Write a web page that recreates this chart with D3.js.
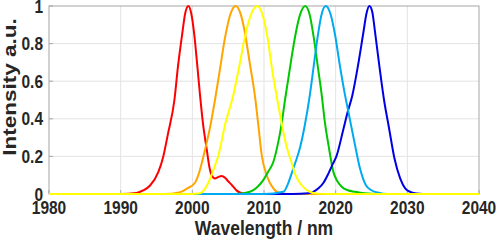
<!DOCTYPE html>
<html>
<head>
<meta charset="utf-8">
<script src="https://cdn.jsdelivr.net/npm/d3@7"></script>
<style>
  body { margin: 0; background: #fff; }
  text { font-family: "Liberation Sans", Arial, sans-serif; font-weight: bold; fill: #262626; }
</style>
</head>
<body>
<svg id="chart" width="498" height="244"></svg>
<script>
// spectra: [wavelength nm, intensity]
const redPts = [[1980,0],[1990,0],[1992.2,0.005],[1993.2,0.02],[1994.1,0.045],[1995.25,0.116],[1995.95,0.2],
  [1996.6,0.32],[1997.5,0.5],[1998.0,0.68],[1998.6,0.855],[1999.0,0.96],[1999.45,1],[1999.85,0.96],[2000.25,0.855],
  [2000.7,0.68],[2001.07,0.527],[2001.5,0.37],[2002.0,0.24],[2002.4,0.14],[2002.7,0.10],[2003.16,0.083],[2003.6,0.09],
  [2004.1,0.096],[2004.6,0.085],[2005.0,0.068],[2005.5,0.048],[2006.2,0.018],[2006.9,0.004],[2008,0],[2040,0]];
const orangePts = [[1980,0],[1996,0],[1998.3,0.01],[1999.3,0.03],[2000.37,0.06],[2001.0,0.12],[2001.77,0.235],
  [2002.5,0.36],[2003.16,0.5],[2003.8,0.65],[2004.6,0.84],[2005.3,0.955],[2006.05,1],[2006.8,0.95],[2007.35,0.855],
  [2008.0,0.7],[2008.74,0.52],[2009.2,0.37],[2009.67,0.21],[2010.37,0.10],[2011.3,0.03],[2012.2,0.005],[2013.5,0],[2040,0]];
const yellowPts = [[1980,0],[2000,0],[2001.07,0.004],[2001.8,0.03],[2002.47,0.08],[2003.0,0.135],[2003.6,0.2],
  [2004.56,0.367],[2005.72,0.527],[2006.5,0.67],[2007.35,0.837],[2008.05,0.94],[2009.07,1],[2009.9,0.94],[2010.5,0.83],
  [2011.1,0.67],[2011.77,0.52],[2012.47,0.376],[2013.1,0.26],[2013.86,0.165],[2014.4,0.1],[2015.0,0.06],[2016.4,0.012],
  [2017.5,0.002],[2019,0],[2040,0]];
const greenPts = [[1980,0],[2006,0],[2008.05,0.012],[2009.0,0.035],[2009.9,0.074],[2010.6,0.12],[2011.3,0.17],
  [2011.9,0.26],[2012.47,0.376],[2012.93,0.5],[2013.7,0.69],[2014.4,0.85],[2015.0,0.95],[2015.75,1],[2016.4,0.95],
  [2016.95,0.83],[2017.5,0.68],[2018.05,0.527],[2018.5,0.38],[2019.0,0.26],[2019.67,0.119],[2020.2,0.07],[2020.84,0.039],
  [2021.7,0.02],[2022.7,0.012],[2024,0.004],[2026,0],[2040,0]];
const cyanPts = [[1980,0],[2010,0],[2012.7,0.012],[2013.3,0.05],[2013.86,0.11],[2014.4,0.17],[2015.0,0.243],
  [2015.7,0.367],[2016.4,0.527],[2016.9,0.67],[2017.5,0.84],[2018.0,0.95],[2018.6,1],[2019.3,0.955],[2019.9,0.85],
  [2020.6,0.68],[2021.3,0.527],[2021.76,0.44],[2022.7,0.26],[2023.4,0.135],[2024.2,0.048],[2025.0,0.02],[2025.7,0.009],
  [2026.6,0.002],[2028,0],[2040,0]];
const bluePts = [[1980,0],[2014,0],[2016.2,0.004],[2017.6,0.03],[2018.3,0.06],[2019.0,0.11],[2019.6,0.16],[2020.1,0.2],
  [2021.05,0.34],[2021.7,0.44],[2022.3,0.52],[2023.1,0.68],[2023.85,0.855],[2024.3,0.96],[2024.7,1],[2025.1,0.97],
  [2025.5,0.86],[2026.1,0.68],[2026.75,0.5],[2027.45,0.35],[2028.2,0.19],[2029.0,0.083],[2029.7,0.03],[2030.5,0.01],
  [2031.3,0.003],[2033,0],[2040,0]];

const xTicks = [1980, 1990, 2000, 2010, 2020, 2030, 2040];
const yTicks = [0, 0.2, 0.4, 0.6, 0.8, 1];

// draw order matters for what shows on the baseline
const series = [
  { pts: redPts, color: "#ff0000" },
  { pts: orangePts, color: "#ffa500" },
  { pts: greenPts, color: "#00c800" },
  { pts: bluePts, color: "#0000e6" },
  { pts: cyanPts, color: "#00aaf0" },
  { pts: yellowPts, color: "#ffff00" }
];

const svg = d3.select("#chart");
const m = { left: 49, right: 479, top: 6, bottom: 194 };
const sy = 1.15; // figure text looks stretched vertically

const x = d3.scaleLinear().domain([1980, 2040]).range([m.left, m.right]);
const y = d3.scaleLinear().domain([0, 1]).range([m.bottom, m.top]);

// grid
svg.append("g").selectAll("line").data(xTicks.slice(1, -1)).join("line")
  .attr("x1", d => x(d)).attr("x2", d => x(d)).attr("y1", m.top).attr("y2", m.bottom)
  .attr("stroke", "#e3e3e3").attr("stroke-width", 1);
svg.append("g").selectAll("line").data(yTicks.slice(1, -1)).join("line")
  .attr("x1", m.left).attr("x2", m.right).attr("y1", d => y(d)).attr("y2", d => y(d))
  .attr("stroke", "#e3e3e3").attr("stroke-width", 1);

// box
svg.append("rect").attr("x", m.left).attr("y", m.top)
  .attr("width", m.right - m.left).attr("height", m.bottom - m.top)
  .attr("fill", "none").attr("stroke", "#a6a6a6").attr("stroke-width", 1);

// ticks (inward)
svg.append("g").selectAll("line").data(xTicks).join("line")
  .attr("x1", d => x(d)).attr("x2", d => x(d)).attr("y1", m.bottom).attr("y2", m.bottom - 4)
  .attr("stroke", "#a6a6a6");
svg.append("g").selectAll("line").data(yTicks).join("line")
  .attr("x1", m.left).attr("x2", m.left + 4).attr("y1", d => y(d)).attr("y2", d => y(d))
  .attr("stroke", "#a6a6a6");

const line = d3.line()
  .x(d => x(d[0]))
  .y(d => y(d[1]))
  .curve(d3.curveMonotoneX);

svg.append("g").selectAll("path").data(series).join("path")
  .attr("d", d => line(d.pts))
  .attr("fill", "none")
  .attr("stroke", d => d.color)
  .attr("stroke-width", 2);

// tick labels
svg.append("g").selectAll("g").data(xTicks).join("g")
  .attr("transform", d => `translate(${x(d)},214) scale(1,${sy})`)
  .append("text").attr("text-anchor", "middle").attr("font-size", 15.5).text(d => d);

svg.append("g").selectAll("g").data(yTicks).join("g")
  .attr("transform", d => `translate(43,${y(d) + 6.6}) scale(1,${sy})`)
  .append("text").attr("text-anchor", "end").attr("font-size", 15.5).text(d => d);

// axis titles
svg.append("g").attr("transform", `translate(${(m.left + m.right) / 2},235) scale(1,1.2)`)
  .append("text").attr("text-anchor", "middle").attr("font-size", 17.5).text("Wavelength / nm");

svg.append("g").attr("transform", `translate(16,87) scale(1,1.25) rotate(-90)`)
  .append("text").attr("text-anchor", "middle").attr("font-size", 18).text("Intensity a.u.");
</script>
</body>
</html>
